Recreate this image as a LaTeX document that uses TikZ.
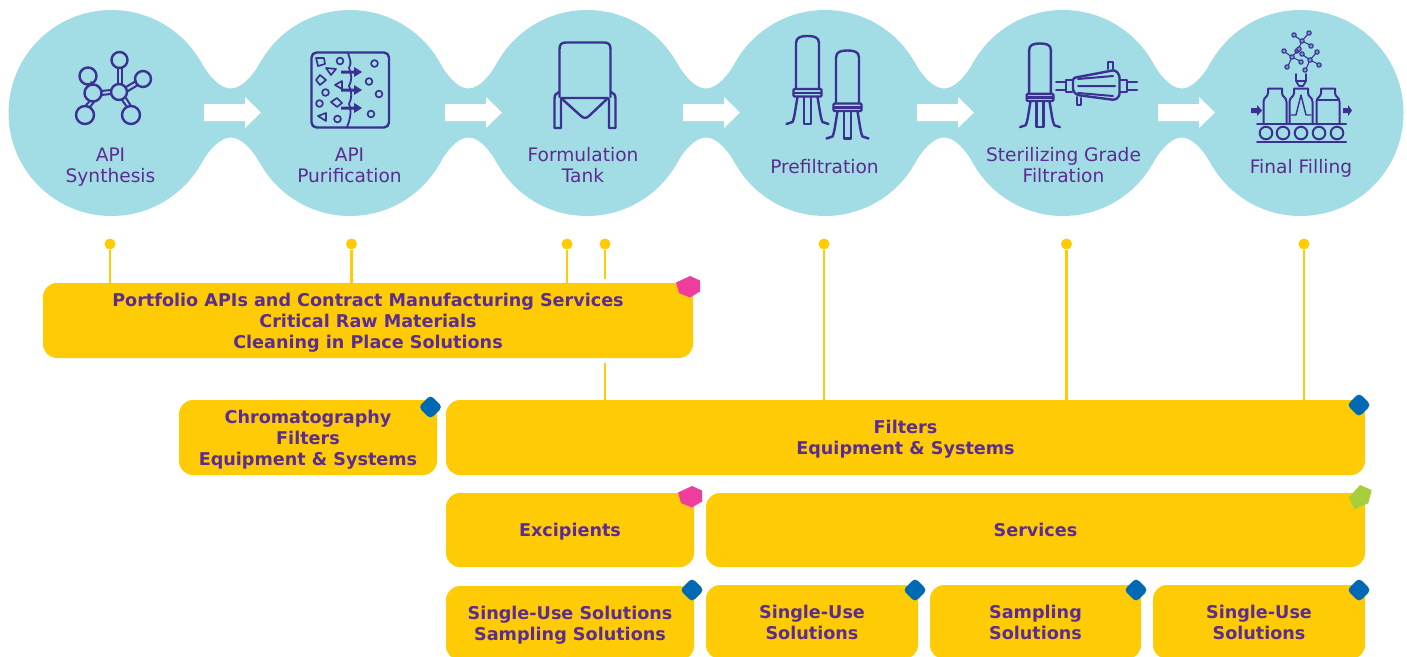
\documentclass[tikz,border=0pt]{standalone}
\usepackage{fontspec}
\setmainfont{DejaVu Sans}
\definecolor{teal}{HTML}{A2DCE4}
\definecolor{gold}{HTML}{FFCB05}
\definecolor{ink}{HTML}{3B3192}
\definecolor{txt}{HTML}{5B2D91}
\definecolor{pinkm}{HTML}{EE3D9C}
\definecolor{bluem}{HTML}{0069B4}
\definecolor{greenm}{HTML}{A7CE3D}
\tikzset{
  stepdisc/.style={circle,fill=teal,inner sep=0pt,minimum size=206pt},
  steplabel/.style={text=txt,font=\fontsize{18.6}{21}\selectfont,align=center,inner sep=0pt,text depth=0pt},
  goldbox/.style={fill=gold,rounded corners=14pt,inner sep=0pt,text=txt,align=center,text depth=0pt,font=\fontsize{17.6}{21}\selectfont\bfseries},
  dotm/.style={circle,fill=gold,inner sep=0pt,minimum size=11pt},
  link/.style={draw=gold,line width=2.5pt},
  icon/.style={draw=ink,line width=2.4pt,line join=round,line cap=round},
  thin icon/.style={draw=ink,line width=1.4pt,line join=round,line cap=round},
  bluemark/.style={fill=bluem,rounded corners=4pt},
}
\newcommand{\neck}[2]{%
  \pgfmathsetmacro{\ax}{#1+89}\pgfmathsetmacro{\bx}{#2-89}\pgfmathsetmacro{\mx}{(#1+#2)/2}%
  \fill[teal] (\ax,61.5) .. controls ({\ax+8},75.5) and ({\mx-11},88.5) .. (\mx,88.5)
     .. controls ({\mx+11},88.5) and ({\bx-8},75.5) .. (\bx,61.5) -- (\bx,164.5)
     .. controls ({\bx-8},150.5) and ({\mx+11},137.5) .. (\mx,137.5)
     .. controls ({\mx-11},137.5) and ({\ax+8},150.5) .. (\ax,164.5) -- cycle;}
\newcommand{\whitearrow}[1]{%
  \fill[white] (#1,104) -- ({#1+41},104) -- ({#1+41},97) -- ({#1+57},112.5) -- ({#1+41},128) -- ({#1+41},121) -- (#1,121) -- cycle;}
% filter cartridge: centre x, top y, scale
\newcommand{\filtericon}[3]{%
  \begin{scope}[shift={(#1,#2)},scale=#3]
    \draw[icon] (-11.5,53) -- (-11.5,7) .. controls (-11.5,1) and (-6,0) .. (0,0) .. controls (6,0) and (11.5,1) .. (11.5,7) -- (11.5,53);
    \draw[icon,rounded corners=1pt] (-14,53) rectangle (14,60.5);
    \draw[icon] (-14,57) -- (14,57);
    \draw[icon] (-10,61) .. controls (-12,72) and (-13,82) .. (-15,86) -- (-21,88);
    \draw[icon] (10,61) .. controls (12,72) and (13,82) .. (15,86) -- (21,88);
    \draw[icon] (-3.5,61) -- (-3.5,88) -- (3.5,88) -- (3.5,61);
  \end{scope}}
% vial: centre x
\newcommand{\vial}[1]{%
  \draw[icon,line width=2pt] ({#1-11.5},124) -- ({#1-11.5},102) .. controls ({#1-11.5},97) and ({#1-7},97) .. ({#1-7},93) -- ({#1-7},88.5) -- ({#1+7},88.5) -- ({#1+7},93) .. controls ({#1+7},97) and ({#1+11.5},97) .. ({#1+11.5},102) -- ({#1+11.5},124);}
% small molecule cloud piece
\newcommand{\tinymol}[2]{%
  \begin{scope}[shift={(#1,#2)}]
    \draw[thin icon,line width=1.1pt] (0,0) -- (-7,-5) (0,0) -- (6,-7) (0,0) -- (8,4) (0,0) -- (-4,9);
    \foreach \p/\q in {0/0,-8/-6,7/-8,9/5,-5/10}{\draw[thin icon,line width=1.1pt,fill=teal!60!ink] (\p,\q) circle (2.2);}
  \end{scope}}
\begin{document}
\begin{tikzpicture}[x=1pt,y=-1pt]
\useasboundingbox (0,0) rectangle (1407,656);
\clip (0,0) rectangle (1407,656);
% ---- process band
\neck{111.5}{350}\neck{350}{587}\neck{587}{825}\neck{825}{1063}\neck{1063}{1300.5}
\node[stepdisc] (s1) at (111.5,113) {};
\node[stepdisc] (s2) at (350,113) {};
\node[stepdisc] (s3) at (587,113) {};
\node[stepdisc] (s4) at (825,113) {};
\node[stepdisc] (s5) at (1063,113) {};
\node[stepdisc] (s6) at (1300.5,113) {};
\whitearrow{204}\whitearrow{445}\whitearrow{683}\whitearrow{917}\whitearrow{1158}
% labels
\node[steplabel] (l1) at (110.5,165) {API\\Synthesis};
\node[steplabel] (l2) at (349.5,165) {API\\Purification};
\node[steplabel] (l3) at (583,165) {Formulation\\Tank};
\node[steplabel] (l4) at (824.5,166.5) {Prefiltration};
\node[steplabel] (l5) at (1063.5,165) {Sterilizing Grade\\Filtration};
\node[steplabel] (l6) at (1301,166.5) {Final Filling};
% ---- molecule icon
\draw[icon,line width=2pt] (118,68) -- (118,84) (121.5,68) -- (121.5,84);
\draw[icon,line width=2pt] (101,91) -- (111,90) (101,95) -- (111,94);
\draw[icon,line width=2pt] (126,87) -- (136,81) (128,91) -- (138,85);
\draw[icon,line width=2pt] (86,84) -- (90,85) (91,82) -- (94,85);
\draw[icon,line width=2pt] (86,105) -- (90,101) (90,107) -- (94,102);
\draw[icon,line width=2pt] (122,100) -- (127,107) (126,98) -- (131,106);
\foreach \a/\b/\r in {119.5/60/8,88/76/8.5,143/79/8,93/93/8.5,119/92/8,85/115/9,131/115/9}{\draw[icon] (\a,\b) circle (\r);}
% ---- purification icon
\draw[icon,rounded corners=5pt] (311.5,52.5) rectangle (389,127.5);
\draw[icon,line width=1.8pt] (348,53) .. controls (350,60) and (352,62) .. (349,68) .. controls (352,76) and (352,80) .. (349,86) .. controls (352,92) and (352,98) .. (349,104) .. controls (352,112) and (350,120) .. (347,127);
\foreach \yy in {72,90,108}{\fill[ink] (341,{\yy-1.5}) -- (354,{\yy-1.5}) -- (354,{\yy-5}) -- (362,\yy) -- (354,{\yy+5}) -- (354,{\yy+1.5}) -- (341,{\yy+1.5}) -- cycle;}
\foreach \a/\b/\r in {340/61/3.4,374.5/63.5/3.4,369/81.5/3.4,379/94/3.4,371/114/3.4,325.5/92.5/3.4,319.5/103.5/3.4,337.5/119/3.4}{\draw[icon,line width=1.7pt] (\a,\b) circle (\r);}
\foreach \p in {{(316,58)--(324,58)--(325,64)--(318,66)},{(326,68)--(336,69)--(331,75)},{(316,80)--(320,75)--(326,80)--(320,85)},{(335,85)--(342,81)--(342,89)},{(331,102)--(337,98)--(342,103)--(337,107)},{(318,116)--(326,113)--(326,121)}}
  {\draw[icon,line width=1.7pt] \p -- cycle;}
% ---- tank icon
\draw[icon] (559.5,97) -- (559.5,49) .. controls (559.5,44) and (562,42.5) .. (566,42.5) -- (604,42.5) .. controls (608,42.5) and (610.5,44) .. (610.5,49) -- (610.5,97);
\draw[icon] (561,98) -- (608,98) -- (589,116) .. controls (586,118.5) and (584,118.5) .. (581,116) -- cycle;
\draw[icon] (559,92) .. controls (556,93) and (554.5,95) .. (554.5,99) -- (554.5,128) -- (561,128) -- (561,99);
\draw[icon] (611,92) .. controls (614,93) and (615.5,95) .. (615.5,99) -- (615.5,128) -- (609,128) -- (609,99);
% ---- filters
\filtericon{807.5}{36}{1}
\filtericon{847.5}{50.5}{1}
\filtericon{1040}{43.5}{.95}
% ---- capsule
\draw[icon,rounded corners=2.5pt] (1073,78) -- (1115,70) -- (1119.5,75) -- (1119.5,96) -- (1115,100) -- (1077,95) -- (1073,91) -- cycle;
\draw[icon,line width=2pt] (1078,79) -- (1113,76) (1078,86) -- (1115,86) (1078,93) -- (1113,96);
\draw[icon,line width=2pt] (1108,69) -- (1108,62) -- (1112.5,62) -- (1112.5,69) (1077,97) -- (1077,105) -- (1081,105) -- (1081,98);
\draw[icon,line width=2pt] (1072,80) -- (1066,80) -- (1066,92) -- (1072,92) (1066,82) -- (1056,82) (1066,90) -- (1056,90);
\draw[icon,line width=2pt] (1120,80) -- (1127,80) -- (1127,92) -- (1120,92) (1127,82) -- (1137,82) (1127,90) -- (1137,90);
% ---- filling icon
\vial{1275}\vial{1301}\vial{1328}
\draw[thin icon] (1317,100) -- (1339,100);
\draw[thin icon] (1301,95) -- (1296,115) -- (1291,115) (1301,95) -- (1306,115) -- (1311,115);
\draw[icon,line width=1.8pt] (1296,74) -- (1296,81) -- (1299,86) -- (1303,86) -- (1306,81) -- (1306,74) (1296,81) -- (1306,81);
\draw[icon,line width=2pt] (1257,124) -- (1346,124) (1257,142) -- (1346,142);
\foreach \a in {1266,1283,1301,1319,1337}{\draw[icon,line width=2pt] (\a,133) circle (6.3);}
\fill[ink] (1251,108) -- (1257,108) -- (1257,105) -- (1262,110.5) -- (1257,116) -- (1257,113) -- (1251,113) -- cycle;
\fill[ink] (1343,108) -- (1348,108) -- (1348,105) -- (1352,110.5) -- (1348,116) -- (1348,113) -- (1343,113) -- cycle;
\tinymol{1302}{41}\tinymol{1292}{57}\tinymol{1310}{60}
% ---- markers and connectors
\node[dotm] (d1) at (110,244) {};
\node[dotm] (d2) at (351.5,244) {};
\node[dotm] (d3) at (567,244) {};
\node[dotm] (d4) at (605,244) {};
\node[dotm] (d5) at (824,244) {};
\node[dotm] (d6) at (1066.5,244) {};
\node[dotm] (d7) at (1304,244) {};
% ---- boxes
\node[goldbox,minimum width=650pt,minimum height=75pt] (b1) at (368,320.5) {Portfolio APIs and Contract Manufacturing Services\\Critical Raw Materials\\Cleaning in Place Solutions};
\node[goldbox,minimum width=258pt,minimum height=75pt] (b2) at (308,437.5) {Chromatography\\Filters\\Equipment \& Systems};
\node[goldbox,minimum width=919pt,minimum height=75pt] (b3) at (905.5,437.5) {Filters\\Equipment \& Systems};
\node[goldbox,minimum width=248pt,minimum height=74pt] (b4) at (570,530) {Excipients};
\node[goldbox,minimum width=659pt,minimum height=74pt] (b5) at (1035.5,530) {Services};
\node[goldbox,minimum width=248pt,minimum height=74pt] (b6) at (570,623) {Single-Use Solutions\\Sampling Solutions};
\node[goldbox,minimum width=212pt,minimum height=74pt] (b7) at (812,622) {Single-Use\\Solutions};
\node[goldbox,minimum width=211pt,minimum height=74pt] (b8) at (1035.5,622) {Sampling\\Solutions};
\node[goldbox,minimum width=212pt,minimum height=74pt] (b9) at (1259,622) {Single-Use\\Solutions};
\draw[link] (d1) -- (d1 |- b1.north);
\draw[link] (d2) -- (d2 |- b1.north);
\draw[link] (d3) -- (d3 |- b1.north);
\coordinate (gapa) at (605,278.5);
\coordinate (gapb) at (605,363);
\draw[link] (d4) -- (gapa);
\draw[link] (gapb) -- (gapb |- b3.north);
\draw[link] (d5) -- (d5 |- b3.north);
\draw[link] (d6) -- (d6 |- b3.north);
\draw[link] (d7) -- (d7 |- b3.north);
\fill[pinkm] (676,282.5) -- (690,276) -- (700,280.5) -- (700,291.5) -- (690,297.5) -- (679,293) -- cycle;
\fill[pinkm] (678,492.5) -- (692,486) -- (702,490.5) -- (702,501.5) -- (692,507.5) -- (681,503) -- cycle;
\fill[greenm] (1360,485) -- (1371.7,490) -- (1368.3,503.3) -- (1354.3,509.3) -- (1349,497.3) -- cycle;
\foreach \a/\b in {430.5/407,1359/405,692/590,915/590,1136/590,1359/590}
  {\fill[bluemark] (\a,{\b-12}) -- ({\a+12},\b) -- (\a,{\b+12}) -- ({\a-12},\b) -- cycle;}
\end{tikzpicture}
\end{document}
